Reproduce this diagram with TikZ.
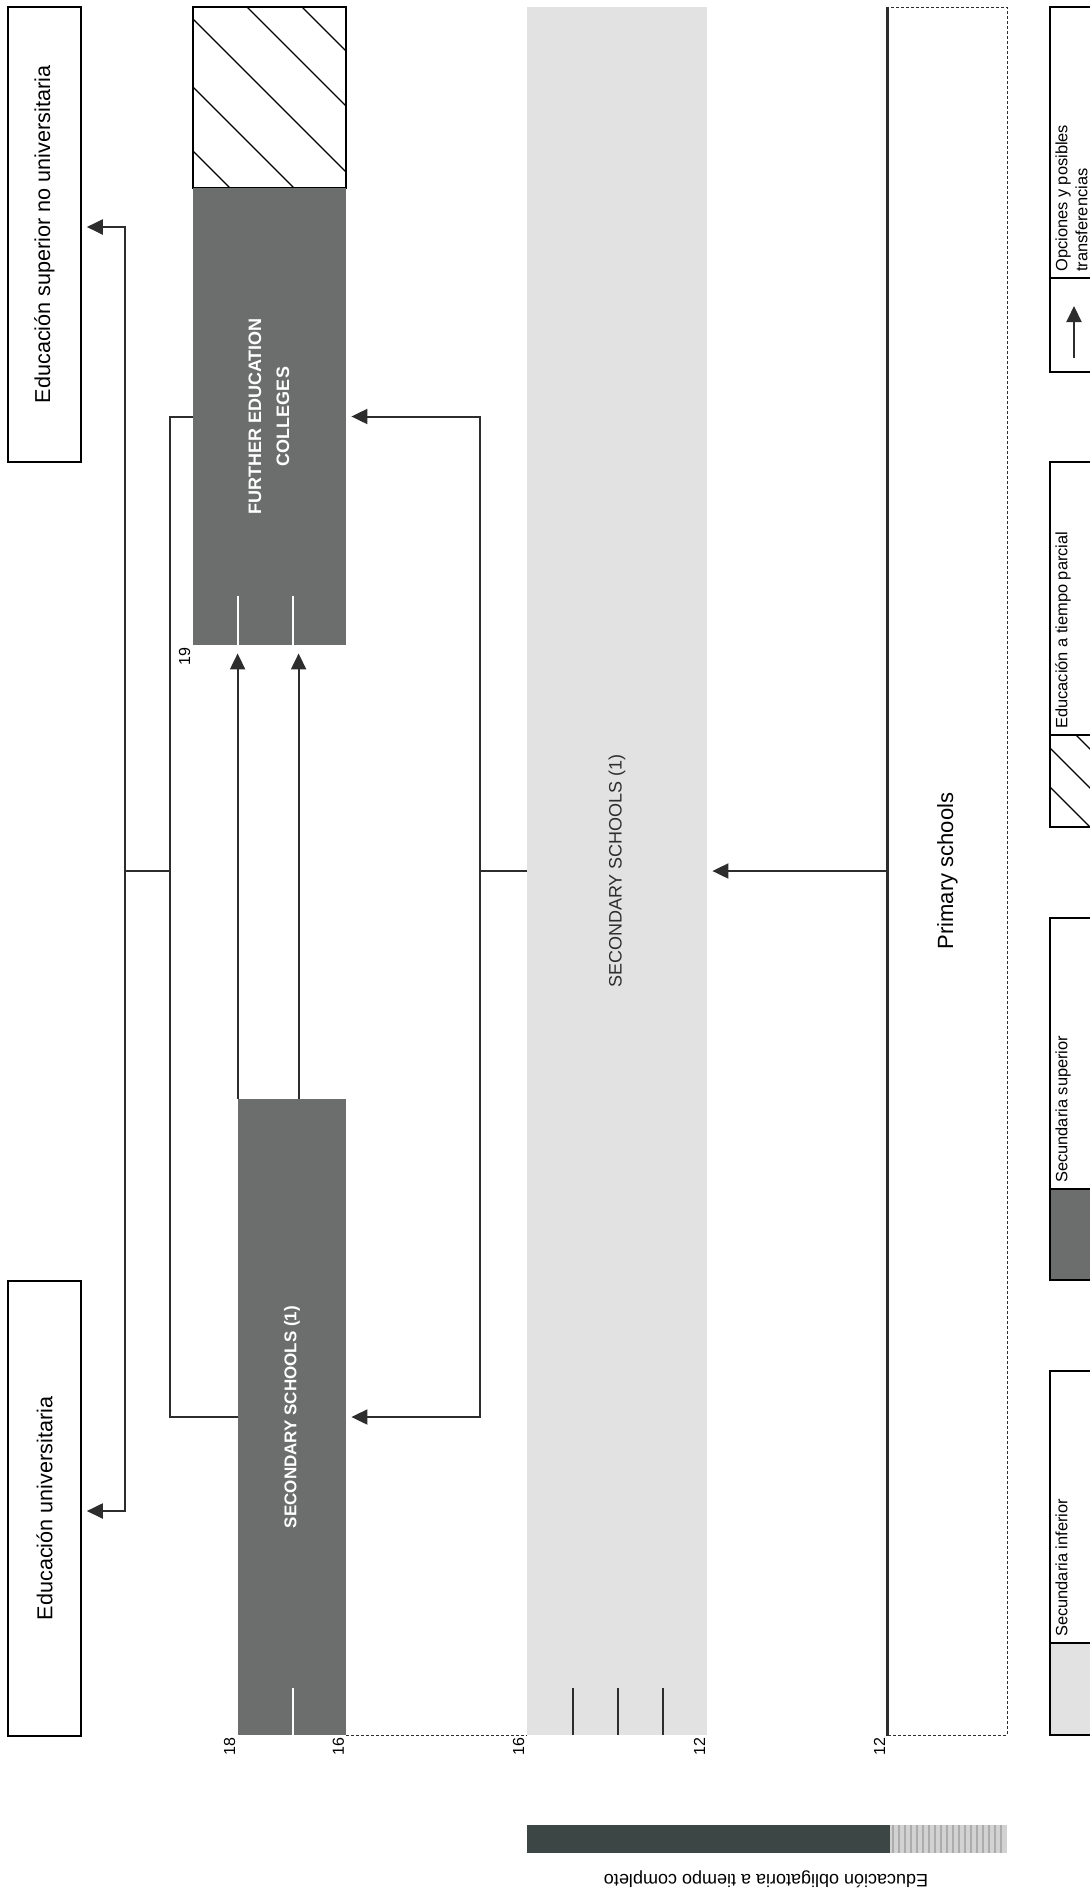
\documentclass[tikz,border=0pt]{standalone}
\usepackage{fontspec}
\setmainfont{Liberation Sans}
\usepackage{tikz}
\usetikzlibrary{arrows.meta,positioning}
\definecolor{eduDark}{RGB}{108,109,109}
\definecolor{eduLight}{RGB}{226,226,226}
\definecolor{eduLine}{RGB}{45,45,45}
\definecolor{eduBar}{RGB}{60,70,68}

\begin{document}
\begin{tikzpicture}[x=0.5pt,y=-0.5pt,
    conn/.style={eduLine, line width=1pt},
    arr/.style={conn, -{Triangle[length=8pt,width=7.5pt]}, shorten >=2.5pt},
    dest/.style={draw=black, line width=0.8pt, inner sep=0pt, font=\fontsize{10.8}{13}\selectfont},
    stage/.style={fill=eduDark, inner sep=0pt, text=white, font=\fontsize{9}{14}\selectfont\bfseries},
    age/.style={rotate=90, anchor=south east, inner sep=1pt, font=\fontsize{8}{9}\selectfont},
    legtext/.style={rotate=90, anchor=north west, inner sep=1.5pt, align=left, font=\fontsize{8.2}{10}\selectfont}]
    \useasboundingbox (0,0) rectangle (1090,1890);
    \clip (0,0) rectangle (1090,1890);

    \node[dest, minimum width=36.5pt, minimum height=227.5pt] (supu) at (44.5,234.5)
        {\rotatebox{90}{Educación superior no universitaria}};
    \node[dest, minimum width=36.5pt, minimum height=227.5pt] (univ) at (44.5,1508.5)
        {\rotatebox{90}{Educación universitaria}};

    \node[draw=black, line width=0.9pt, inner sep=0pt, minimum width=76.5pt, minimum height=90.5pt] (fept) at (269.5,97.5) {};
    \begin{scope}
        \clip (fept.north west) rectangle (fept.south east);
        \foreach \c in {42,106,174,240,295}
            \draw[line width=0.7pt] (193,193-\c) -- (346,346-\c);
    \end{scope}
    \node[stage, minimum width=76.5pt, minimum height=228.5pt] (fe) at (269.5,416.5)
        {\rotatebox{90}{\begin{tabular}{@{}c@{}}FURTHER EDUCATION\\COLLEGES\end{tabular}}};
    \node[stage, font=\fontsize{8.5}{10}\selectfont\bfseries, minimum width=54pt, minimum height=318pt] (secu) at (292,1417)
        {\rotatebox{90}{SECONDARY SCHOOLS (1)}};
    \node[fill=eduLight, inner sep=0pt, minimum width=90pt, minimum height=864pt, text=eduLine,
        font=\fontsize{9}{11}\selectfont] (sec) at (617,871) {\rotatebox{90}{SECONDARY SCHOOLS (1)}};
    \node[draw=eduLine, line width=0.5pt, dash pattern=on 1.5pt off 1pt, inner sep=0pt, minimum width=59.5pt,
        minimum height=864pt, font=\fontsize{11}{13}\selectfont] (prim) at (947.5,871) {\rotatebox{90}{Primary schools}};
    \draw[eduLine, line width=1.5pt] (prim.north west) -- (prim.south west);

    \draw[white, line width=0.6pt] (238,596) -- (238,645) (293,596) -- (293,645) (293,1688) -- (293,1735);
    \foreach \x in {573,618,663}
        \draw[eduLine, line width=0.6pt] (\x,1688) -- (\x,1735);
    \draw[eduLine, line width=0.6pt, dash pattern=on 1.5pt off 1pt] (secu.south east) -- (sec.south west);

    \node[age] (a19) at (fe.south west) {19};
    \node[age] (a18) at (secu.south west) {18};
    \node[age] (a16) at (secu.south east) {16};
    \node[age] (b16) at (sec.south west) {16};
    \node[age] (b12) at (sec.south east) {12};
    \node[age] (c12) at (prim.south west) {12};

    \draw[arr] (prim.west) -- (sec.east);
    \coordinate[left=23.5pt of sec.west] (jr);
    \draw[conn] (sec.west) -- (jr);
    \draw[arr] (jr) |- (fe.east);
    \draw[arr] (jr) |- (secu.east);

    \coordinate (jl) at (170,871);
    \coordinate (jo) at (125,871);
    \draw[conn] (fe.west) -| (jl);
    \draw[conn] (secu.west) -| (jl);
    \draw[conn] (jl) -- (jo);
    \draw[arr] (jo) |- ([yshift=3.75pt]supu.east);
    \draw[arr] (jo) |- ([yshift=-1.25pt]univ.east);

    \coordinate (up1) at (secu.north west);
    \coordinate[right=30.5pt of secu.north west] (up2);
    \draw[arr, shorten >=4pt] (up1) -- (up1 |- fe.south);
    \draw[arr, shorten >=4pt] (up2) -- (up2 |- fe.south);

    \fill[eduDark] (1050,1189) rectangle (1110,1280);
    \fill[eduLight] (1050,1643) rectangle (1110,1735);
    \begin{scope}
        \clip (1050,735) rectangle (1110,827);
        \foreach \c in {224,263,302,341,380}
            \draw[line width=0.6pt] (1050,1050-\c) -- (1110,1110-\c);
    \end{scope}
    \foreach \ya/\yb/\yd in {7/372/278, 462/827/735, 918/1280/1189, 1371/1735/1643} {
        \draw[line width=0.6pt] (1050,\ya) rectangle (1110,\yb);
        \draw[line width=0.6pt] (1050,\yd) -- (1110,\yd);
    }
    \draw[arr, shorten >=0pt] (1074,358) -- (1074,306);
    \node[legtext] (lg1) at (1052,275) {Opciones y posibles\\transferencias};
    \node[legtext] (lg2) at (1052,732) {Educación a tiempo parcial};
    \node[legtext] (lg3) at (1052,1186) {Secundaria superior};
    \node[legtext] (lg4) at (1052,1640) {Secundaria inferior};

    \fill[eduBar] (527,1825) rectangle (890,1853);
    \fill[gray!35] (890,1825) rectangle (1007,1853);
    \foreach \x in {893,899,...,1005}
        \draw[gray!65, line width=0.6pt] (\x,1825) -- (\x,1853);
    \node[rotate=180, font=\fontsize{9}{11}\selectfont] (oblig) at (766,1879) {Educación obligatoria a tiempo completo};
\end{tikzpicture}
\end{document}
